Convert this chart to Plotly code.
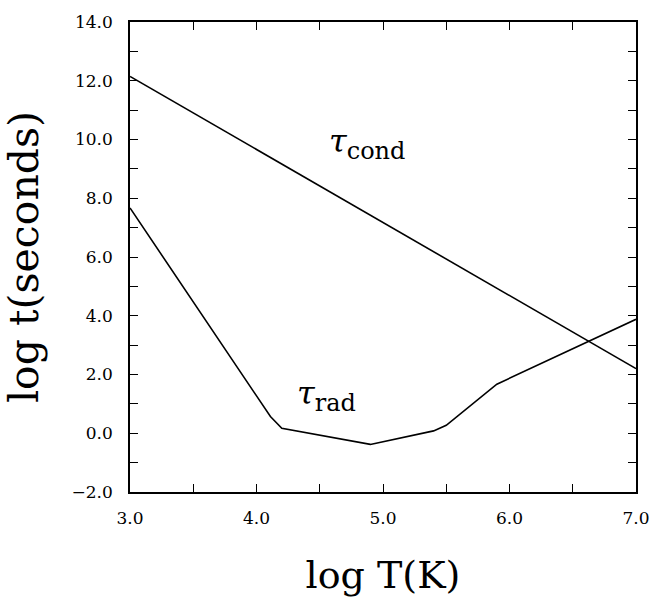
import plotly.graph_objects as go

# Cooling timescales versus temperature
log_T_cond = [3.0, 7.0]
log_t_cond = [12.15, 2.2]

log_T_rad = [3.0, 4.11, 4.2, 4.9, 5.4, 5.5, 5.9, 7.0]
log_t_rad = [7.67, 0.57, 0.17, -0.38, 0.08, 0.27, 1.67, 3.88]

x_ticks = [3.0, 4.0, 5.0, 6.0, 7.0]
y_ticks = [-2.0, 0.0, 2.0, 4.0, 6.0, 8.0, 10.0, 12.0, 14.0]

line_style = dict(color="black", width=1.6)

fig = go.Figure()
fig.add_trace(go.Scatter(x=log_T_cond, y=log_t_cond, mode="lines", line=line_style,
                         showlegend=False, hoverinfo="skip"))
fig.add_trace(go.Scatter(x=log_T_rad, y=log_t_rad, mode="lines", line=line_style,
                         showlegend=False, hoverinfo="skip"))

tick_font = dict(family="DejaVu Serif", size=17, color="black")

axis_common = dict(
    showline=True, linecolor="black", linewidth=1.5, mirror="ticks",
    ticks="inside", ticklen=8, tickwidth=1.2, tickcolor="black",
    showgrid=False, zeroline=False, tickfont=tick_font, tickformat=".1f",
)

fig.update_xaxes(
    range=[3.0, 7.0], tickvals=x_ticks, ticklabelstandoff=10,
    minor=dict(dtick=0.5, ticks="inside", ticklen=8, tickwidth=1.2,
               tickcolor="black", showgrid=False),
    title=dict(text="log T(K)",
               font=dict(family="DejaVu Serif", size=38, color="black"),
               standoff=34),
    **axis_common,
)
fig.update_yaxes(
    range=[-2.0, 14.0], tickvals=y_ticks, ticklabelstandoff=12,
    minor=dict(dtick=1.0, ticks="inside", ticklen=8, tickwidth=1.2,
               tickcolor="black", showgrid=False),
    title=dict(text="log t(seconds)",
               font=dict(family="DejaVu Serif", size=41, color="black"),
               standoff=20),
    **axis_common,
)

ann_font = dict(family="DejaVu Serif", size=32, color="black")
fig.add_annotation(x=4.87, y=9.85,
                   text="<i>τ</i><sub><span style='font-size:24px'>cond</span></sub>",
                   showarrow=False, font=ann_font)
fig.add_annotation(x=4.55, y=1.3,
                   text="<i>τ</i><sub><span style='font-size:24px'>rad</span></sub>",
                   showarrow=False, font=ann_font)

fig.update_layout(
    width=662, height=601,
    margin=dict(l=130, r=16, t=15, b=106),
    plot_bgcolor="white", paper_bgcolor="white",
)

fig.write_html("out.html")
